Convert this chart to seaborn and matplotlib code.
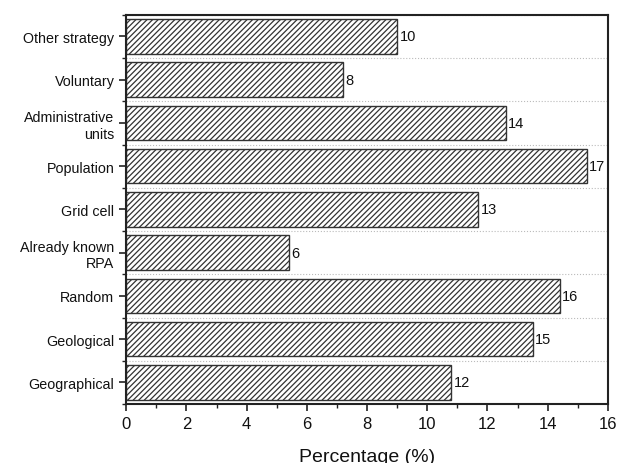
import matplotlib
matplotlib.use("Agg")
import matplotlib.pyplot as plt
import seaborn as sns
import pandas as pd
from matplotlib.ticker import MultipleLocator, FixedLocator

# donnees
strategies = ["Other strategy", "Voluntary", "Administrative\nunits", "Population",
              "Grid cell", "Already known\nRPA", "Random", "Geological", "Geographical"]
pourcentages = [9.0, 7.2, 12.6, 15.3, 11.7, 5.4, 14.4, 13.5, 10.8]
nombres = [10, 8, 14, 17, 13, 6, 16, 15, 12]

df = pd.DataFrame({"Strategie": strategies, "Pourcentage": pourcentages})

sns.set_theme(style="white")
plt.rcParams['font.family'] = ['Liberation Sans', 'DejaVu Sans']
plt.rcParams['hatch.color'] = '#444444'
plt.rcParams['hatch.linewidth'] = 0.9

fig, ax = plt.subplots(figsize=(6.19, 4.64), dpi=100)
sns.barplot(data=df, x="Pourcentage", y="Strategie", orient="h", color="white",
            edgecolor="#333333", linewidth=1.0, width=0.8, ax=ax)

for p in ax.patches:
    p.set_hatch("//////")

# etiquettes de comptage au bout des barres
for i, (v, n) in enumerate(zip(pourcentages, nombres)):
    ax.text(v + 0.08, i, str(n), va='center', ha='left', fontsize=10.5, color='#111111')

ax.set_xlim(0, 16)
ax.set_ylim(8.5, -0.5)
ax.xaxis.set_major_locator(MultipleLocator(2))
ax.xaxis.set_minor_locator(MultipleLocator(1))
ax.yaxis.set_minor_locator(FixedLocator([i + 0.5 for i in range(-1, 9)]))

ax.grid(False)
ax.grid(True, which='minor', axis='y', linestyle=':', color='#bbbbbb', linewidth=0.8)
ax.set_axisbelow(True)

ax.tick_params(axis='both', which='major', direction='out', length=5, width=1.2,
               labelsize=10.3, color='#222222', labelcolor='#111111',
               bottom=True, left=True)
ax.tick_params(axis='both', which='minor', direction='out', length=3, width=1.0,
               color='#222222', bottom=True, left=True)
ax.tick_params(axis='x', labelsize=12)
for lab in ax.get_yticklabels():
    lab.set_multialignment('right')

for s in ax.spines.values():
    s.set_linewidth(1.5)
    s.set_color('#222222')

ax.set_ylabel("")
ax.set_xlabel("Percentage (%)", fontsize=14, color='#111111', labelpad=12)

plt.subplots_adjust(left=0.204, right=0.982, top=0.966, bottom=0.127)
plt.savefig("out.png", dpi=100)
